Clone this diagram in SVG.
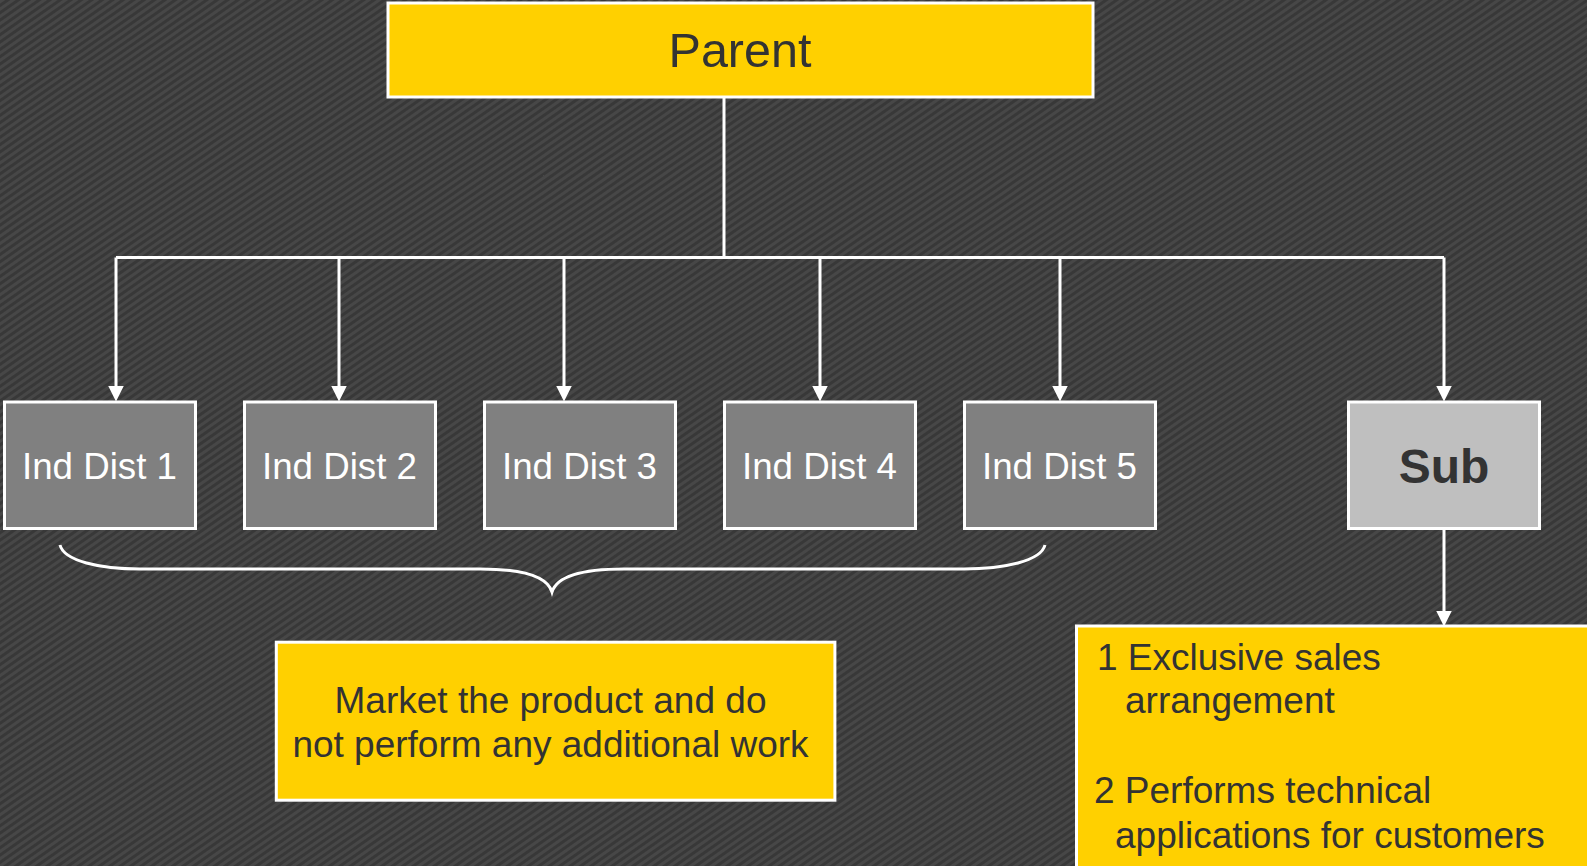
<svg xmlns="http://www.w3.org/2000/svg" width="1587" height="866" viewBox="0 0 1587 866">
  <defs>
    <pattern id="bg" width="8" height="6" patternUnits="userSpaceOnUse" patternTransform="rotate(-35)">
      <rect width="8" height="6" fill="#383838"/>
      <rect width="8" height="3" fill="#474747"/>
    </pattern>
    <marker id="arr" markerUnits="userSpaceOnUse" markerWidth="16" markerHeight="16" viewBox="0 0 15 15" refX="7" refY="7.5" orient="auto">
      <path d="M0,0 L15,7.5 L0,15 Z" fill="#ffffff"/>
    </marker>
    <style>
      .conn { stroke: #ffffff; stroke-width: 3; fill: none; }
      .yel { fill: #ffd000; stroke: #ffffff; stroke-width: 3; }
      .dist { fill: #808080; stroke: #ffffff; stroke-width: 3; }
      .sub { fill: #bfbfbf; stroke: #ffffff; stroke-width: 3; }
      .t { font-family: "Liberation Sans", Arial, sans-serif; }
      .dark { fill: #333333; }
      .white { fill: #ffffff; }
    </style>
  </defs>

  <rect x="0" y="0" width="1587" height="866" fill="url(#bg)"/>

  <g id="connectors">
    <path class="conn" d="M724,98 V257.5"/>
    <path class="conn" d="M116,257.5 H1444"/>
    <path class="conn" d="M116,257.5 V393" marker-end="url(#arr)"/>
    <path class="conn" d="M339,257.5 V393" marker-end="url(#arr)"/>
    <path class="conn" d="M564,257.5 V393" marker-end="url(#arr)"/>
    <path class="conn" d="M820,257.5 V393" marker-end="url(#arr)"/>
    <path class="conn" d="M1060,257.5 V393" marker-end="url(#arr)"/>
    <path class="conn" d="M1444,257.5 V393" marker-end="url(#arr)"/>
    <path class="conn" d="M1444,530 V618" marker-end="url(#arr)"/>
    <path class="conn" stroke-width="2.5" d="M60,545 C64,561 100,569 140,569 L480,569 C522,569 547,576 552,592 C557,576 582,569 624,569 L964,569 C1004,569 1041,561 1045,545"/>
  </g>

  <g id="parent">
    <rect class="yel" x="388" y="3" width="705" height="94"/>
    <text class="t dark" x="740" y="67" font-size="48.5" text-anchor="middle">Parent</text>
  </g>

  <g id="dist1">
    <rect class="dist" x="4.5" y="402" width="191" height="126.5"/>
    <text class="t white" x="99.5" y="479" font-size="36.7" text-anchor="middle">Ind Dist 1</text>
  </g>
  <g id="dist2">
    <rect class="dist" x="244.5" y="402" width="191" height="126.5"/>
    <text class="t white" x="339.5" y="479" font-size="36.7" text-anchor="middle">Ind Dist 2</text>
  </g>
  <g id="dist3">
    <rect class="dist" x="484.5" y="402" width="191" height="126.5"/>
    <text class="t white" x="579.5" y="479" font-size="36.7" text-anchor="middle">Ind Dist 3</text>
  </g>
  <g id="dist4">
    <rect class="dist" x="724.5" y="402" width="191" height="126.5"/>
    <text class="t white" x="819.5" y="479" font-size="36.7" text-anchor="middle">Ind Dist 4</text>
  </g>
  <g id="dist5">
    <rect class="dist" x="964.5" y="402" width="191" height="126.5"/>
    <text class="t white" x="1059.5" y="479" font-size="36.7" text-anchor="middle">Ind Dist 5</text>
  </g>

  <g id="sub">
    <rect class="sub" x="1348.5" y="402" width="191" height="126.5"/>
    <text class="t dark" x="1444" y="483" font-size="48" font-weight="bold" text-anchor="middle">Sub</text>
  </g>

  <g id="market">
    <rect class="yel" x="276.3" y="642.2" width="558.6" height="158"/>
    <text class="t dark" x="550.5" y="713" font-size="37" text-anchor="middle">Market the product and do</text>
    <text class="t dark" x="550.5" y="757" font-size="37" text-anchor="middle">not perform any additional work</text>
  </g>

  <g id="sub-notes">
    <rect class="yel" x="1076.5" y="626" width="530" height="260"/>
    <text class="t dark" font-size="37">
      <tspan x="1097" y="670">1 Exclusive sales</tspan>
      <tspan x="1125" y="713">arrangement</tspan>
      <tspan x="1094" y="803">2 Performs technical</tspan>
      <tspan x="1115" y="848">applications for customers</tspan>
    </text>
  </g>
</svg>
